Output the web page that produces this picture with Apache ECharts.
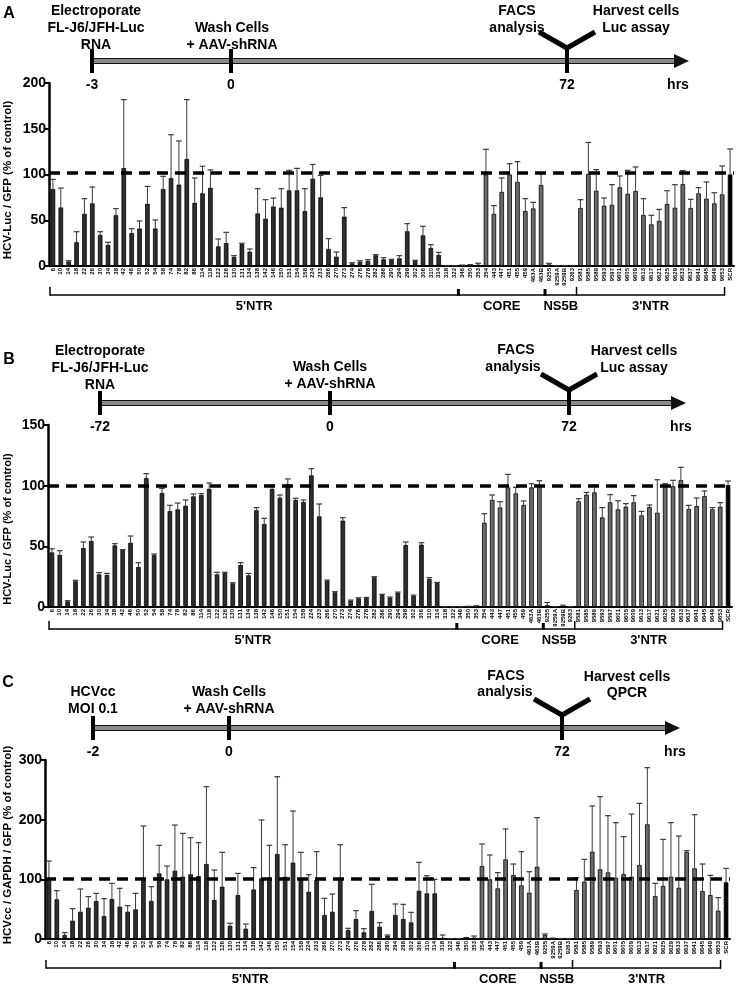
<!DOCTYPE html>
<html><head><meta charset="utf-8">
<script src="https://cdn.jsdelivr.net/npm/echarts@6/dist/echarts.min.js"></script>
<style>html,body{margin:0;padding:0;background:#fff}#c{width:742px;height:988px}</style>
</head><body><div id="c"></div>
<script>
// ---------- categories ----------
const ntr5 = ['6','10','14','18','22','26','30','34','38','42','46','50','52','54','58','74','78','82','86','114','118','122','126','130','131','134','138','142','146','150','151','154','158','224','233','266','270','273','274','276','278','282','286','290','294','298','302','306','310','314','318','322'];
const core = ['346','350','353','354','443','447','451','455','459','463A','463B'];
const ns5b = ['9255','9259A','9259B','9263'];
const ntr3 = ['9581','9585','9589','9593','9597','9601','9605','9609','9613','9617','9621','9625','9629','9633','9637','9641','9645','9649','9653'];
const control = ['SCR'];
const categories = [].concat(ntr5, core, ns5b, ntr3, control);
const regionNames = ["5'NTR", 'CORE', 'NS5B', "3'NTR"];

// ---------- Panel A: HCV-Luc / GFP (% of control), 3 h electroporation ----------
const aMean = [84,64,5,26,57,68.5,34,23,55.5,107,36,41,68,41,84,96,89,117,69,79.5,85.5,21.5,25,10,24,15.7,57.5,51.7,65,63.8,82.7,82.7,60,95.4,75,18.6,10.2,54,2.9,4.7,5.5,11.7,7.3,6.6,8.4,38,5.5,33.5,19.7,12,0.3,0.2,
  0.3,0.5,1.5,100,57,81,100,92,60,63,88.5,
  1.8,0.2,0.2,0.5,
  63.4,100.5,82.3,66,67,86,79,82,55.7,45.5,49.5,67.8,63.8,89.6,63.4,79.4,73.6,68.5,78.3,
  100];
const aUpper = [94.7,85.2,5.8,37.5,73.6,86.3,37.5,25.9,62.7,181.8,40.8,49.2,87,50.3,98,143.5,136.6,181.8,96.2,109,105,29.5,36.8,11.3,24.8,18.6,84.5,72.5,74.3,84.5,104.6,106.7,84.5,111,99,29.9,15.3,63.8,3.6,5.8,6.9,12.4,9.1,7.3,11.3,46.3,6.2,43.4,23.3,14.9,0.5,0.3,
  1,1.5,3,127.5,66,96.2,111.8,114,73.6,69.6,101,
  2.9,0.3,0.3,0.6,
  72.5,135,105.3,74.3,88.9,98.4,104.6,108.2,73.6,55.4,61.9,82.3,88.9,104.2,72.9,85.6,91.8,80.1,109.3,
  127.9];

// ---------- Panel B: HCV-Luc / GFP (% of control), 72 h electroporation ----------
const bMean = [45,43,4.7,21.2,48.6,54.4,26.9,26.4,50.8,47,53,33,106.3,42.9,94,79.1,80.5,83.5,91.2,92.3,97.3,26.9,28,19.5,34.6,26.1,79.7,68.4,97.3,90.1,101.4,88.2,86.5,108.5,74.7,21.7,12.1,71.2,5.2,7.1,7.4,24.5,9.9,7.7,11.8,51.1,9.3,51.4,23.1,19.8,0.2,0.2,
  0.2,0.5,0.7,69.5,88.3,82.1,98.6,93.7,84.1,98.6,100.5,
  1.6,0.3,0.3,0.3,
  87.1,92.6,94.5,73.9,86.3,80.5,82.7,86.3,75.5,82.4,77.7,99.7,99.5,104.7,80.8,83.2,91.5,80.5,82.7,
  100.5];
const bUpper = [48,46.4,5.2,22,53.6,57.7,28.3,27.7,52.2,47.3,58.5,36.5,109.9,43.7,97.8,83.8,85.7,88.2,93.1,93.4,102.2,28.6,28.6,20,36.5,27.7,81.9,73.1,100.5,92.3,105.5,89.6,88.2,114,84.9,22.2,12.6,73.6,5.7,7.6,7.9,25,10.4,8.2,12.3,53.6,9.8,53,24.2,20.3,0.3,0.3,
  0.3,0.6,1,76.9,92.3,86.8,109.3,98.6,87.4,101.6,104.1,
  3.8,0.4,1.5,0.4,
  89.3,94.5,100.5,81.9,92.6,87.6,85.2,91.8,78.8,84.1,104.9,101.6,104.4,115.1,83.8,89.8,95.6,81.9,86,
  103.8];

// ---------- Panel C: HCVcc / GAPDH / GFP (% of control) ----------
const cMean = [100,66.5,6.7,30.7,45.8,52.5,63.7,38.5,67,54.2,45.8,49.7,101.7,63.7,110,100,114.5,104.5,108.4,105.6,125.7,65.4,87.7,22.3,73.7,17.3,83,101.7,100,142.5,104.5,128,100,79.3,98.9,40.2,45.8,100,15,33.5,11.2,47,20.7,5.6,40.2,33.5,27.9,81,76.5,76.5,2,0.3,
  0.3,1.5,2.5,122.3,100,84.9,133.5,107.3,90,77.7,121.2,
  6.7,1,0.5,0.5,
  82.1,96.1,146.4,116.8,111.7,102.8,108.9,104.5,124,192.2,72.1,88.8,104.5,86,145.8,118.4,80.4,73.7,47.5,
  95];
const cUpper = [130.7,81,10.6,50.8,83.8,71,76.5,67.6,93.3,84.9,55.9,76.5,189.4,87.7,157,122.3,191,177,169.8,161.5,255.3,115.6,145.3,26.3,110,25.1,119.6,199.4,157,272,158,214.5,145.3,107.8,146.4,68.2,75.4,158,17.9,47.5,17.3,91.6,27.4,6.7,58.7,58.1,44.7,128.5,106.1,100,6.7,0.5,
  0.5,2.5,5,159.2,140.8,111.2,184.4,125.7,146.4,112.8,203.4,
  8.4,1.5,0.8,0.8,
  102.8,133.5,223,238.5,206.7,195,171.5,209.5,227.4,287.2,93.3,167,195,172.6,148,208.4,125.7,106.7,69.3,
  118.4];

// ---------- axis settings ----------
const yMax = [200, 150, 300];
const yStep = [50, 50, 100];
const refLine = [102, 100, 101];
const yNames = ['HCV-Luc / GFP (% of control)', 'HCV-Luc / GFP (% of control)', 'HCVcc / GAPDH / GFP (% of control)'];

// ---------- styling ----------
const FONT = '"Liberation Sans", Arial, Helvetica, sans-serif';
const colDark = '#2e2e2e', colGray = '#6b6b6b', colCtrl = '#000000';
function barColor(cat) {
  if (ntr5.indexOf(cat) >= 0) return colDark;
  if (control.indexOf(cat) >= 0) return colCtrl;
  return colGray;
}
const grids = [
  { left: 49, right: 8, top: 83, height: 183 },
  { left: 48, right: 10, top: 425, height: 182 },
  { left: 45, right: 12, top: 760, height: 179 }
];
const means = [aMean, bMean, cMean];
const uppers = [aUpper, bUpper, cUpper];

const chart = echarts.init(document.getElementById('c'), null, { renderer: 'canvas' });

const option = {
  animation: false,
  backgroundColor: '#fff',
  grid: grids,
  xAxis: grids.map((g, k) => ({
    type: 'category', gridIndex: k, data: categories,
    axisLine: { show: true, lineStyle: { color: '#000', width: 2 } },
    axisTick: { show: false },
    axisLabel: { interval: 0, rotate: 90, fontSize: 6, fontWeight: 'bold', color: '#000', margin: 2, fontFamily: FONT }
  })),
  yAxis: grids.map((g, k) => ({
    type: 'value', gridIndex: k, min: 0, max: yMax[k], interval: yStep[k],
    axisLine: { show: true, lineStyle: { color: '#000', width: 2.5 } },
    axisTick: { show: true, length: 5, lineStyle: { color: '#000', width: 2 } },
    axisLabel: { fontSize: 14, fontWeight: 'bold', color: '#000', margin: 3, fontFamily: FONT },
    splitLine: { show: false }
  })),
  series: []
};

means.forEach((arr, k) => {
  option.series.push({
    type: 'bar', xAxisIndex: k, yAxisIndex: k, z: 2,
    barWidth: '58%',
    data: arr.map((v, i) => ({ value: v, itemStyle: { color: barColor(categories[i]) } })),
    itemStyle: { borderColor: '#000', borderWidth: 0.8 }
  });
  option.series.push({
    type: 'custom', xAxisIndex: k, yAxisIndex: k, z: 3,
    data: arr.map((v, i) => [i, v, uppers[k][i]]),
    renderItem: function (params, api) {
      const i = api.value(0);
      const p0 = api.coord([i, api.value(1)]);
      const p1 = api.coord([i, api.value(2)]);
      const half = api.size([1, 0])[0] * 0.36;
      return {
        type: 'group', children: [
          { type: 'line', shape: { x1: p0[0], y1: p0[1], x2: p1[0], y2: p1[1] }, style: { stroke: '#3a3a3a', lineWidth: 1 } },
          { type: 'line', shape: { x1: p1[0] - half, y1: p1[1], x2: p1[0] + half, y2: p1[1] }, style: { stroke: '#3a3a3a', lineWidth: 1.2 } }
        ]
      };
    },
    markLine: {
      silent: true, symbol: ['none', 'none'], label: { show: false }, z: 6,
      lineStyle: { color: '#000', width: 3.5, type: [11, 7] },
      data: [{ yAxis: refLine[k] }]
    }
  });
});

chart.setOption(option);

// ---------- decorations: timelines, brackets, axis titles ----------
const G = [];
function txt(s, x, y, size, extra) {
  G.push(Object.assign({ type: 'text', x: x, y: y, z: 20, style: { text: s, x: 0, y: 0, align: 'center', verticalAlign: 'middle', fill: '#000', font: 'bold ' + size + 'px ' + FONT } }, extra || {}));
}
function timeline(t) {
  const y = t.y;
  G.push({ type: 'rect', z: 10, shape: { x: t.ticks[0], y: y - 2.5, width: t.tip - 12 - t.ticks[0], height: 5 }, style: { fill: '#8a8a8a', stroke: '#111', lineWidth: 1.2 } });
  G.push({ type: 'polygon', z: 11, shape: { points: [[t.tip - 15, y - 7], [t.tip, y], [t.tip - 15, y + 7]] }, style: { fill: '#111' } });
  t.ticks.forEach(x => G.push({ type: 'rect', z: 12, shape: { x: x - 2, y: y - 12, width: 4, height: 24 }, style: { fill: '#000' } }));
  G.push({ type: 'polyline', z: 12, shape: { points: [[t.yx - 28, y - 29], [t.yx, y - 13], [t.yx + 28, y - 29]] }, style: { stroke: '#000', lineWidth: 5, fill: null } });
  G.push({ type: 'line', z: 12, shape: { x1: t.yx, y1: y - 14, x2: t.yx, y2: y + 12 }, style: { stroke: '#000', lineWidth: 4 } });
  t.tickLabels.forEach(l => txt(l[0], l[1], y + 24, 14));
  t.texts.forEach(l => txt(l[0], l[1], l[2], 14));
  txt(t.letter[0], t.letter[1], t.letter[2], 16);
}
timeline({ y: 61, ticks: [92, 231], yx: 567, tip: 689,
  tickLabels: [['-3', 92], ['0', 231], ['72', 567], ['hrs', 678]],
  texts: [['Electroporate', 96, 11], ['FL-J6/JFH-Luc', 96, 28], ['RNA', 96, 45], ['Wash Cells', 232, 28], ['+ AAV-shRNA', 232, 45],
          ['FACS', 517, 11], ['analysis', 517, 28], ['Harvest cells', 636, 11], ['Luc assay', 636, 28]],
  letter: ['A', 9, 14] });
timeline({ y: 403, ticks: [100, 330], yx: 569, tip: 686,
  tickLabels: [['-72', 100], ['0', 330], ['72', 569], ['hrs', 681]],
  texts: [['Electroporate', 100, 351], ['FL-J6/JFH-Luc', 100, 368], ['RNA', 100, 385], ['Wash Cells', 330, 367], ['+ AAV-shRNA', 330, 384],
          ['FACS', 516, 350], ['analysis', 513, 367], ['Harvest cells', 634, 351], ['Luc assay', 634, 368]],
  letter: ['B', 9, 360] });
timeline({ y: 728, ticks: [93, 229], yx: 562, tip: 680,
  tickLabels: [['-2', 93], ['0', 229], ['72', 562], ['hrs', 675]],
  texts: [['HCVcc', 93, 692], ['MOI 0.1', 93, 709], ['Wash Cells', 229, 692], ['+ AAV-shRNA', 229, 709],
          ['FACS', 506, 676], ['analysis', 505, 692], ['Harvest cells', 627, 677], ['QPCR', 627, 693]],
  letter: ['C', 8, 683] });

// axis titles
const titleY = [180, 529, 845];
[0, 1, 2].forEach(k => txt(yNames[k], 8, titleY[k], k === 1 ? 11 : 11.5, { rotation: Math.PI / 2 }));

// brackets
const bracketY = [295, 629, 968];
[0, 1, 2].forEach(k => {
  const px = c => chart.convertToPixel({ xAxisIndex: k }, c);
  const band = px(categories[1]) - px(categories[0]);
  const by = bracketY[k];
  const xL = grids[k].left + 1;
  const b1 = (px(ntr5[ntr5.length - 1]) + px(core[0])) / 2;
  const b2 = (px(core[core.length - 1]) + px(ns5b[0])) / 2;
  const b3 = (px(ns5b[ns5b.length - 1]) + px(ntr3[0])) / 2;
  const xR = px(ntr3[ntr3.length - 1]) + band * 0.3;
  const ln = (x1, y1, x2, y2, w) => G.push({ type: 'line', z: 10, shape: { x1: x1, y1: y1, x2: x2, y2: y2 }, style: { stroke: '#000', lineWidth: w } });
  ln(xL, by, xR, by, 1.5);
  ln(xL, by - 8, xL, by + 0.75, 1.5);
  ln(b1, by - 6, b1, by + 0.75, 3);
  ln(b2, by - 6, b2, by + 0.75, 3);
  ln(b3, by - 8, b3, by + 0.75, 1.5);
  ln(xR, by - 8, xR, by + 0.75, 1.5);
  const centers = [(xL + b1) / 2, (b1 + b2) / 2, (b2 + b3) / 2, (b3 + xR) / 2];
  regionNames.forEach((n, j) => txt(n, centers[j], by + 11, 13));
});

chart.setOption({ graphic: G });
</script></body></html>
